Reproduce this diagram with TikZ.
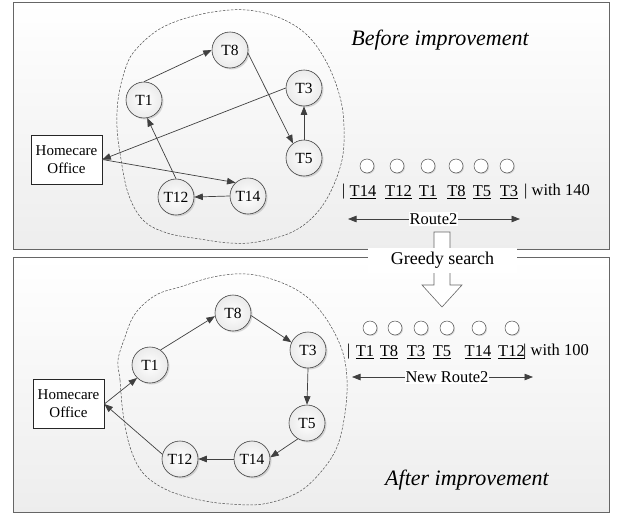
\documentclass[tikz,border=0pt]{standalone}
\usepackage{fontspec}
\setmainfont{Liberation Serif}
\usetikzlibrary{arrows.meta,shadows}
\begin{document}
\begin{tikzpicture}[x=1pt,y=-1pt,
  task/.style={circle, draw=black!75, line width=0.6pt, inner color=white, outer color=black!8,
    minimum size=36pt, inner sep=0pt, font=\fontsize{15.5}{15.5}\selectfont,
    drop shadow={shadow xshift=1.5pt, shadow yshift=-1.5pt, fill=black!30, opacity=0.5}},
  office/.style={draw=black!85, line width=0.7pt, fill=white, minimum width=71pt, minimum height=49pt,
    align=center, font=\fontsize{15}{18}\selectfont, inner sep=0pt},
  link/.style={draw=black!75, line width=0.7pt, -{Triangle[length=8.5pt,width=6.5pt]}},
  dlink/.style={draw=black!75, line width=0.7pt, {Triangle[length=8.5pt,width=6.5pt]}-{Triangle[length=8.5pt,width=6.5pt]}},
  panel/.style={draw=black!60, line width=1pt, top color=white, bottom color=black!7},
  blob/.style={draw=black!70, dash pattern=on 2.5pt off 1.5pt, line width=0.5pt},
  dot/.style={circle, draw=black!70, line width=0.5pt, fill=white, minimum size=14pt, inner sep=0pt,
    drop shadow={shadow xshift=1pt, shadow yshift=-1pt, fill=black!30, opacity=0.5}},
  lbl/.style={font=\fontsize{16.5}{18}\selectfont, inner sep=0pt},
  routelbl/.style={font=\fontsize{16.5}{18}\selectfont, fill=white, inner sep=1pt},
  heading/.style={font=\fontsize{22}{24}\selectfont\itshape, inner sep=0pt},
]
\useasboundingbox (0,0) rectangle (617,514);

% panels
\path[panel] (13,2) rectangle (609,249.5);
\path[panel] (13,257) rectangle (609,512);

% dashed regions
\draw[blob] plot[smooth cycle, tension=0.6] coordinates {(117,127) (120,153) (128,193) (143,220) (167,233) (200,239) (230,243) (257,242) (290,233) (313,217) (330,193) (342,160) (344,127) (340,97) (327,63) (307,35) (280,18) (247,10) (213,12) (180,20) (155,32) (133,53) (124,73) (118,100)};
\draw[blob] plot[smooth cycle, tension=0.6] coordinates {(118,360) (120,380) (123,413) (130,447) (143,473) (167,490) (200,500) (230,504) (263,504) (297,493) (320,473) (337,447) (345,413) (347,380) (342,350) (327,320) (307,297) (280,282) (247,274) (213,277) (180,287) (160,293) (145,303) (133,317) (125,337)};

% ---------- top panel ----------
\node[heading] (before) at (440,40) {Before improvement};
\node[office] (hoA) at (66.5,159.5) {Homecare\\Office};
\node[task] (a1) at (144,100) {T1};
\node[task] (a8) at (230,50) {T8};
\node[task] (a3) at (304,88) {T3};
\node[task] (a5) at (304,158) {T5};
\node[task] (a14) at (248,196) {T14};
\node[task] (a12) at (176,197) {T12};

\draw[link] (a1.north) -- (a8.west);
\draw[link] (a8.-10) -- (a5.127);
\draw[link] (a5.north) -- (a3.south);
\draw[link] (a3.west) -- (hoA.east);
\draw[link] (hoA.east) -- (a14.133);
\draw[link] (a14.west) -- (a12.east);
\draw[link] (a12.north) -- (a1.-80);

% route row (top)
\foreach \n/\x in {1/367,2/397,3/428,4/456,5/481,6/507} \node[dot] (ca\n) at (\x,166) {};
\node[lbl] (barA) at (343.5,192) {|};
\node[lbl] (la1) at (363,192) {\underline{T14}};
\node[lbl] (la2) at (398.5,192) {\underline{T12}};
\node[lbl] (la3) at (428,192) {\underline{T1}};
\node[lbl] (la4) at (456.5,192) {\underline{T8}};
\node[lbl] (la5) at (482,192) {\underline{T5}};
\node[lbl] (la6) at (509,192) {\underline{T3}};
\node[lbl, anchor=west] (wa) at (524,192) {| with 140};
\coordinate (r2l) at (348,219);
\coordinate (r2r) at (520,219);
\draw[dlink] (r2l) -- (r2r);
\node[routelbl] (r2) at (433.5,219) {Route2};

% ---------- greedy search ----------
\draw[black!60, fill=white, line width=0.6pt] (434,232) -- (450,232) -- (450,285) -- (462,285) -- (442,307) -- (422,285) -- (434,285) -- cycle;
\node[fill=white, minimum width=149pt, minimum height=25pt, inner sep=0pt, font=\fontsize{18}{20}\selectfont] (greedy) at (442.5,260) {Greedy search};

% ---------- bottom panel ----------
\node[heading] (after) at (467,480) {After improvement};
\node[office] (hoB) at (68.5,404) {Homecare\\Office};
\node[task] (b1) at (150,365) {T1};
\node[task] (b8) at (233,313) {T8};
\node[task] (b3) at (308,350) {T3};
\node[task] (b5) at (307,423) {T5};
\node[task] (b14) at (252,459) {T14};
\node[task] (b12) at (180,459) {T12};

\draw[link] (hoB.east) -- (b1.225);
\draw[link] (b1.55) -- (b8.190);
\draw[link] (b8.-8) -- (b3.155);
\draw[link] (b3.south) -- (b5.north);
\draw[link] (b5.240) -- (b14.5);
\draw[link] (b14.west) -- (b12.east);
\draw[link] (b12.165) -- (hoB.east);

% route row (bottom)
\foreach \n/\x in {1/370,2/395,3/421,4/447,5/479,6/512} \node[dot] (cb\n) at (\x,328) {};
\node[lbl] (barB) at (348.5,352) {|};
\node[lbl] (lb1) at (365,352) {\underline{T1}};
\node[lbl] (lb2) at (389,352) {\underline{T8}};
\node[lbl] (lb3) at (416,352) {\underline{T3}};
\node[lbl] (lb4) at (442,352) {\underline{T5}};
\node[lbl] (lb5) at (478,352) {\underline{T14}};
\node[lbl] (lb6) at (511.5,352) {\underline{T12}};
\node[lbl, anchor=west] (wb) at (523,352) {|\ with 100};
\coordinate (n2l) at (352,377);
\coordinate (n2r) at (533,377);
\draw[dlink] (n2l) -- (n2r);
\node[routelbl] (n2) at (447,377) {New Route2};
\end{tikzpicture}
\end{document}
